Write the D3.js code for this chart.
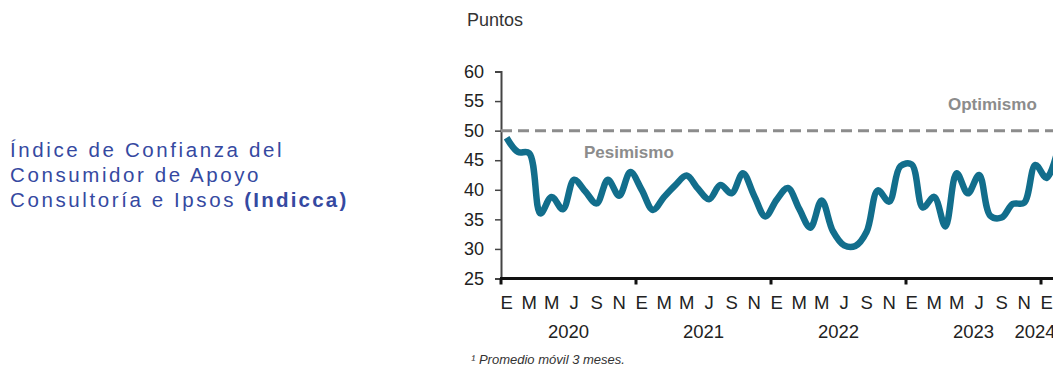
<!DOCTYPE html>
<html>
<head>
<meta charset="utf-8">
<script src="https://cdn.jsdelivr.net/npm/d3@7"></script>
<style>
  body { margin: 0; background: #fff; }
  svg { display: block; font-family: "Liberation Sans", Arial, sans-serif; }
</style>
</head>
<body>
<div id="chart"></div>
<script>
// data: Indicca, promedio movil 3 meses (ene-2020 .. feb-2024)
var years = [2020, 2021, 2022, 2023, 2024];
var monthLetters = ["E", "M", "M", "J", "S", "N"];   // every second month
var yTicks = [25, 30, 35, 40, 45, 50, 55, 60];
var values = [
  48.8, 46.4, 46.2, 36.0, 38.8, 36.7, 41.7, 39.7, 37.7, 41.7, 39.0, 43.0,
  40.0, 36.6, 38.8, 40.8, 42.4, 40.2, 38.4, 40.8, 39.4, 42.8, 39.0, 35.5,
  38.3, 40.3, 36.8, 33.6, 38.2, 33.0, 30.6, 30.5, 32.9, 39.9, 38.0, 44.0,
  44.3, 37.0, 38.8, 33.8, 42.8, 39.4, 42.5, 35.6, 35.3, 37.6, 37.8, 44.2,
  42.0, 46.8
];
var threshold = 50;

var W = 1053, H = 367;

var svg = d3.select("#chart").append("svg")
  .attr("width", W)
  .attr("height", H);

// title on the left
var title = svg.append("text")
  .attr("fill", "#3549a1")
  .attr("font-size", "20.5px")
  .attr("letter-spacing", "2.6px");
title.append("tspan").attr("x", 10).attr("y", 157).text("Índice de Confianza del");
title.append("tspan").attr("x", 10).attr("y", 182).text("Consumidor de Apoyo");
title.append("tspan").attr("x", 10).attr("y", 207).text("Consultoría e Ipsos ");
title.append("tspan").attr("font-weight", "bold").attr("letter-spacing", "2.2px").text("(Indicca)");

// scales
var x0 = 501;
var monthW = 11.25;
var nMonths = years.length * 12;
var months = d3.range(nMonths);

var x = d3.scaleBand()
  .domain(months)
  .range([x0, x0 + nMonths * monthW]);

var y = d3.scaleLinear()
  .domain([25, 60])
  .range([278.5, 71.5]);

// unit label
svg.append("text")
  .attr("x", 467)
  .attr("y", 26)
  .attr("font-size", "18px")
  .attr("fill", "#333")
  .text("Puntos");

// y axis
var yAxis = svg.append("g")
  .attr("transform", "translate(" + x0 + ",0)")
  .call(d3.axisLeft(y).tickValues(yTicks).tickSize(6).tickPadding(11));
yAxis.select(".domain").attr("stroke", "#444").attr("stroke-width", 2);
yAxis.selectAll(".tick line").attr("stroke", "#444").attr("stroke-width", 1.5);
yAxis.selectAll(".tick text")
  .attr("font-size", "18px")
  .attr("font-family", "Liberation Sans, Arial, sans-serif")
  .attr("fill", "#222");

// threshold line
svg.append("line")
  .attr("x1", x0)
  .attr("x2", W)
  .attr("y1", y(threshold))
  .attr("y2", y(threshold))
  .attr("stroke", "#8c8c8c")
  .attr("stroke-width", 3)
  .attr("stroke-dasharray", "11,6");

svg.append("text")
  .attr("x", 584)
  .attr("y", 158)
  .attr("font-size", "17px")
  .attr("font-weight", "bold")
  .attr("fill", "#8c8c8c")
  .text("Pesimismo");

svg.append("text")
  .attr("x", 948)
  .attr("y", 110)
  .attr("font-size", "17px")
  .attr("font-weight", "bold")
  .attr("fill", "#8c8c8c")
  .text("Optimismo");

// x axis
var xAxisY = y(25);
svg.append("line")
  .attr("x1", x0 - 1)
  .attr("x2", W)
  .attr("y1", xAxisY)
  .attr("y2", xAxisY)
  .attr("stroke", "#111")
  .attr("stroke-width", 3);

svg.selectAll(".ytick")
  .data(years)
  .enter().append("line")
  .attr("class", "ytick")
  .attr("x1", function(d, i){ return x(i * 12); })
  .attr("x2", function(d, i){ return x(i * 12); })
  .attr("y1", xAxisY)
  .attr("y2", xAxisY + 6)
  .attr("stroke", "#111")
  .attr("stroke-width", 3);

// month letters, every second month
var labelMonths = months.filter(function(m){ return m % 2 == 0; });
svg.selectAll(".mlab")
  .data(labelMonths)
  .enter().append("text")
  .attr("class", "mlab")
  .attr("x", function(m){ return x(m) + x.bandwidth() / 2; })
  .attr("y", 309)
  .attr("text-anchor", "middle")
  .attr("font-size", "18.5px")
  .attr("fill", "#222")
  .text(function(m){ return monthLetters[(m % 12) / 2]; });

// year labels
svg.selectAll(".ylab")
  .data(years)
  .enter().append("text")
  .attr("class", "ylab")
  .attr("x", function(d, i){
    if (i == years.length - 1) return x(i * 12) - 6;  // partial year
    return x(i * 12) + 6 * monthW;
  })
  .attr("y", 338)
  .attr("text-anchor", "middle")
  .attr("font-size", "18.5px")
  .attr("fill", "#222")
  .text(function(d){ return d; });

// footnote
svg.append("text")
  .attr("x", 471)
  .attr("y", 364)
  .attr("font-size", "13px")
  .attr("font-style", "italic")
  .attr("fill", "#333")
  .text("¹ Promedio móvil 3 meses.");

// the series
var line = d3.line()
  .x(function(d, i){ return x(i) + x.bandwidth() / 2; })
  .y(function(d){ return y(d); })
  .curve(d3.curveCatmullRom.alpha(0.5));

svg.append("path")
  .datum(values)
  .attr("fill", "none")
  .attr("stroke", "#126e8c")
  .attr("stroke-width", 6.5)
  .attr("stroke-linejoin", "round")
  .attr("d", line);
</script>
</body>
</html>
